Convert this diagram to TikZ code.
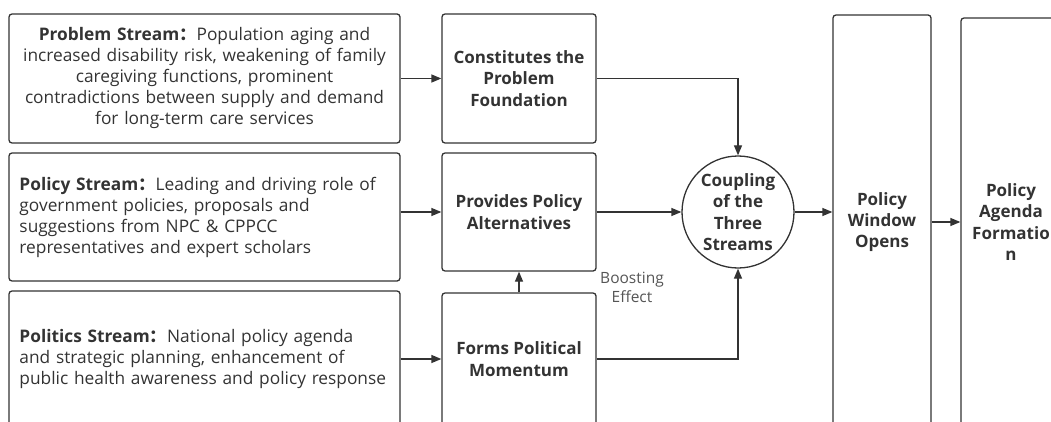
\documentclass[tikz,border=0pt]{standalone}
\usepackage{fontspec}
\setmainfont{Open Sans}
\newfontfamily\cjk{Noto Sans CJK SC}
\usetikzlibrary{arrows.meta}
\definecolor{ink}{HTML}{333333}
\definecolor{soft}{HTML}{555555}
\newcommand{\fwcolon}{{\cjk：}}
\tikzset{
  box/.style={draw=ink, line width=1.3pt, rounded corners=3pt, text=ink, inner sep=0pt,
    font=\fontsize{17.3}{21}\selectfont},
  bbox/.style={box, font=\fontsize{17}{21.3}\selectfont\bfseries, align=center},
  conn/.style={draw=ink, line width=1.3pt, -{Triangle[length=10pt,width=8pt]}},
}
\begin{document}
\begin{tikzpicture}[x=1pt,y=-1pt]
\useasboundingbox (0,0) rectangle (1051,422);
\clip (0,0) rectangle (1051,422);
% left column
\node[box, minimum width=391pt, minimum height=129pt, text width=380pt, align=center] (prob) at (204.5,78.5)
  {\textbf{Problem Stream\fwcolon}Population aging and\\increased disability risk, weakening of family\\caregiving functions, prominent\\contradictions between supply and demand\\for long-term care services};
\node[box, minimum width=391pt, minimum height=128pt, text width=370pt, align=left] (pol) at (204.5,217)
  {\textbf{Policy Stream\fwcolon}Leading and driving role of\\government policies, proposals and\\suggestions from NPC \& CPPCC\\representatives and expert scholars};
\node[box, minimum width=391pt, minimum height=136pt, text width=370pt, align=left] (polit) at (204.5,359)
  {\textbf{Politics Stream\fwcolon}National policy agenda\\and strategic planning, enhancement of\\public health awareness and policy response};
% middle column
\node[bbox, minimum width=154pt, minimum height=129pt] (const) at (519,78.5) {Constitutes the\\Problem\\Foundation};
\node[bbox, minimum width=154pt, minimum height=118pt] (prov) at (519,212) {Provides Policy\\Alternatives};
\node[bbox, minimum width=154pt, minimum height=132pt] (forms) at (519,359) {Forms Political\\Momentum};
% circle
\node[bbox, circle, minimum size=112pt] (coup) at (738,212) {Coupling\\of the\\Three\\Streams};
% right column
\node[bbox, minimum width=98pt, minimum height=414pt] (win) at (882,222) {Policy\\Window\\Opens};
\node[bbox, minimum width=100pt, minimum height=408pt] (agenda) at (1011,222) {Policy\\Agenda\\Formatio\\n};
% connectors
\draw[conn] (prob.east) -- (const.west);
\draw[conn] (pol.east |- prov.west) -- (prov.west);
\draw[conn] (polit.east) -- (forms.west);
\draw[conn] (const.east) -| (coup.north);
\draw[conn] (prov.east) -- (coup.west);
\draw[conn] (forms.east) -| (coup.south);
\draw[conn] (forms.north) -- (prov.south);
\draw[conn] (coup.east) -- (win.west |- coup.east);
\draw[conn] (win.east) -- (agenda.west |- win.east);
\node[text=soft, font=\fontsize{15.5}{19}\selectfont, align=center] (boost) at (632,287) {Boosting\\Effect};
\end{tikzpicture}
\end{document}
